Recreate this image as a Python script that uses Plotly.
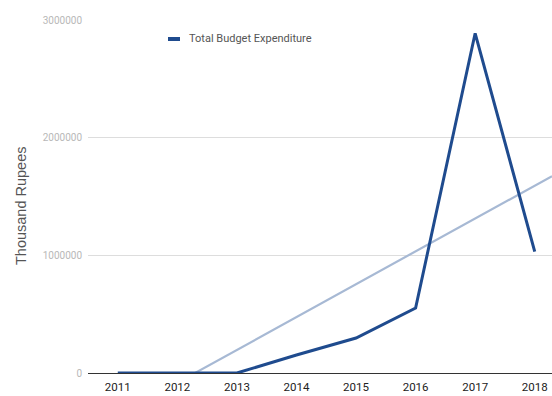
import numpy as np
import plotly.graph_objects as go

# Annual budget expenditure (thousand rupees)
years = [2011, 2012, 2013, 2014, 2015, 2016, 2017, 2018]
expenditure = [0, 0, 0, 153000, 297000, 552000, 2887000, 1031000]
y_ticks = [0, 1000000, 2000000, 3000000]

series_name = "Total Budget Expenditure"
line_color = "#1f4b8e"
trend_color = "#a7b9d4"

x_range = [2010.5, 2018.29]

# Linear trend fitted to the series
slope, intercept = np.polyfit(years, expenditure, 1)
trend_x = np.array(x_range)
trend_y = slope * trend_x + intercept

fig = go.Figure()
fig.add_trace(go.Scatter(
    x=trend_x, y=trend_y, mode="lines",
    line=dict(color=trend_color, width=2.2),
    showlegend=False, hoverinfo="skip",
))
fig.add_trace(go.Scatter(
    x=years, y=expenditure, mode="lines", name=series_name,
    line=dict(color=line_color, width=3),
    showlegend=False,
))

# Legend entry
fig.add_shape(type="rect", xref="paper", yref="paper",
              x0=(168 - 88) / 464, x1=(180 - 88) / 464,
              y0=(373 - 41) / 353, y1=(373 - 37) / 353,
              fillcolor=line_color, line=dict(width=0))
fig.add_annotation(text=series_name, xref="paper", yref="paper",
                   x=(187 - 88) / 464, y=(373 - 39) / 353,
                   xanchor="left", yanchor="middle", showarrow=False,
                   font=dict(family="Roboto", size=11, color="#555555"))

# Y axis title
fig.add_annotation(text="Thousand Rupees", xref="paper", yref="paper",
                   x=-(88 - 21) / 464, y=(373 - 206) / 353,
                   xanchor="center", yanchor="middle", showarrow=False,
                   textangle=-90,
                   font=dict(family="Liberation Sans, Arial", size=14.5, color="#555555"))

fig.update_layout(
    width=552, height=396,
    margin=dict(l=88, r=0, t=20, b=23),
    paper_bgcolor="white", plot_bgcolor="white",
    showlegend=False,
    xaxis=dict(
        range=x_range, tickmode="array", tickvals=years,
        ticktext=[str(y) for y in years],
        showgrid=False, zeroline=False, showline=False,
        ticks="", ticklabelstandoff=5,
        tickfont=dict(family="Roboto", size=11.5, color="#222222"),
    ),
    yaxis=dict(
        range=[0, 3000000], tickmode="array", tickvals=y_ticks,
        ticktext=[str(v) for v in y_ticks],
        showgrid=True, gridcolor="#dddddd", gridwidth=1,
        zeroline=True, zerolinecolor="#333333", zerolinewidth=1,
        showline=False, ticks="", ticklabelstandoff=5,
        tickfont=dict(family="Roboto", size=10, color="#b8b8b8"),
    ),
)

fig.write_html("out.html")
